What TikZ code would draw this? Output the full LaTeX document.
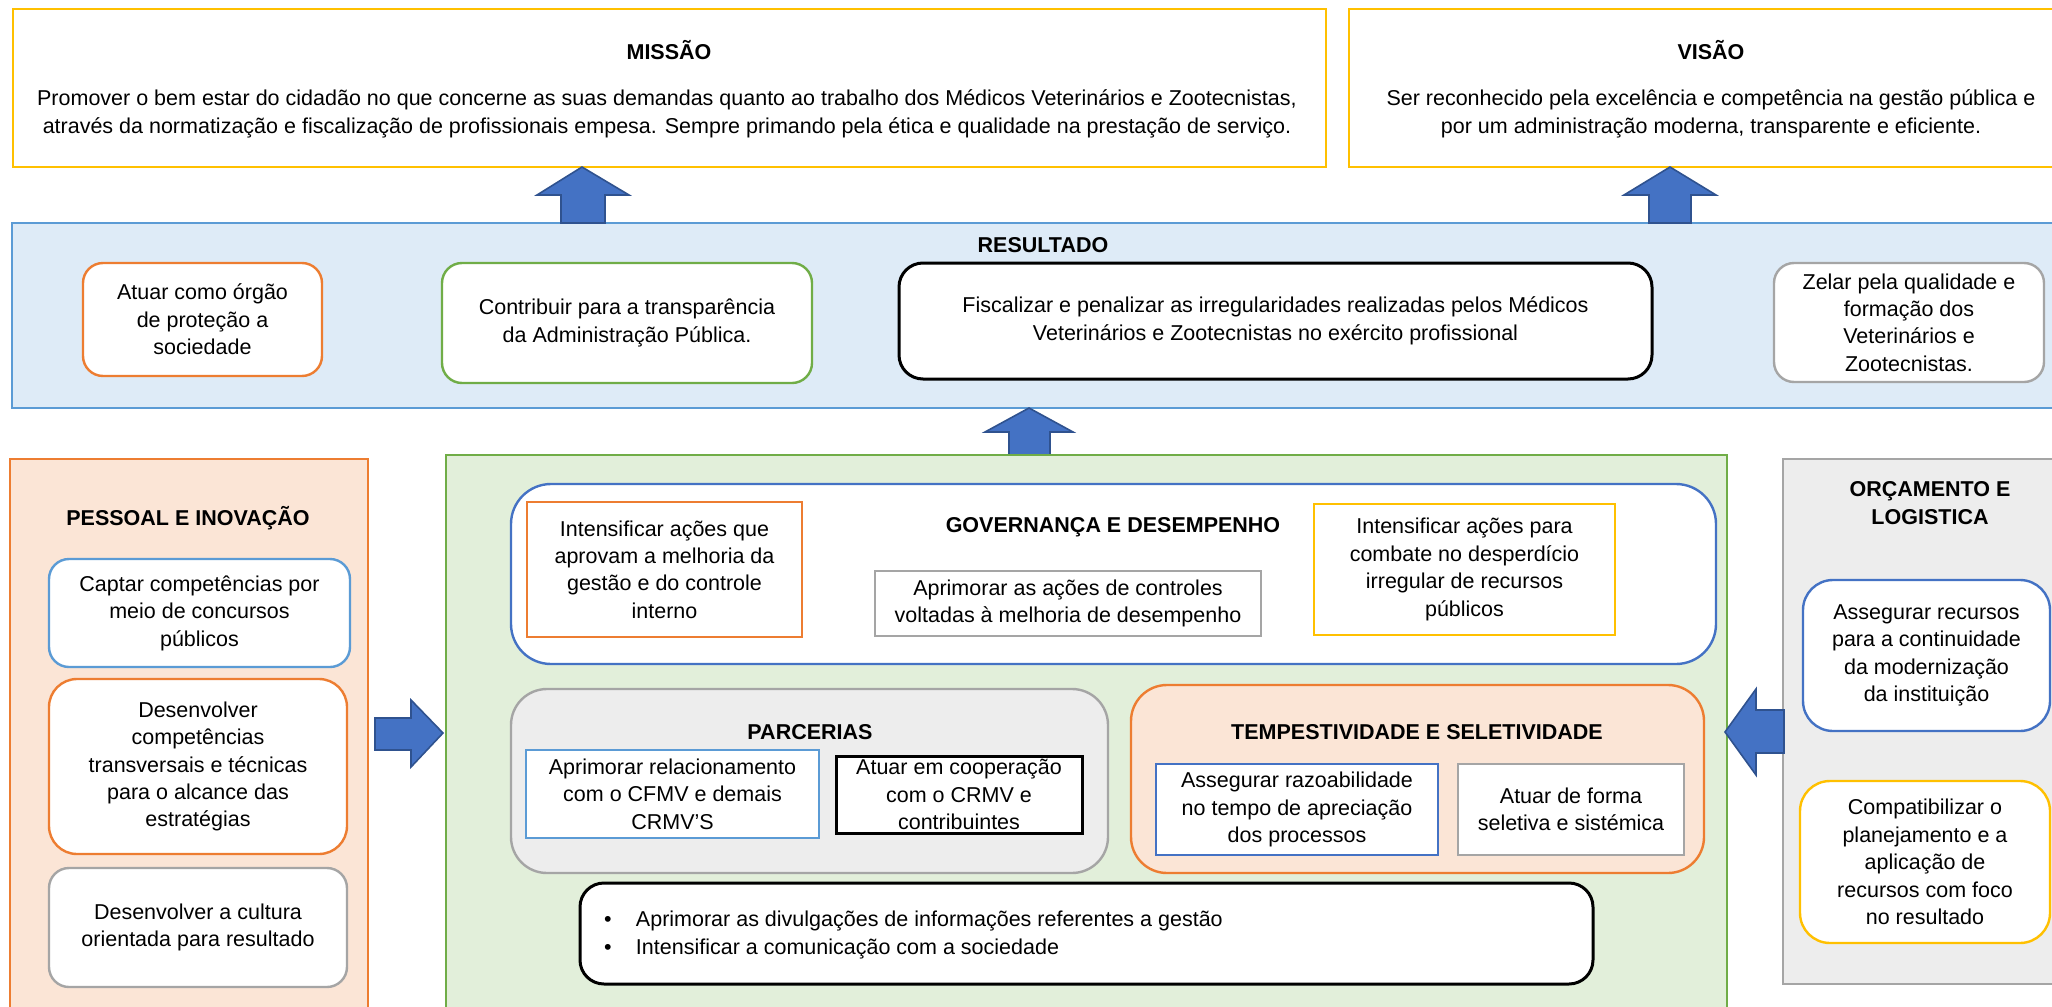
\documentclass[tikz,border=0pt]{standalone}
\usepackage{fontspec}
\setmainfont{Liberation Sans}
\usetikzlibrary{fit}
\definecolor{cyel}{HTML}{FFC000}
\definecolor{cblu}{HTML}{4472C4}
\definecolor{clbl}{HTML}{5B9BD5}
\definecolor{cora}{HTML}{ED7D31}
\definecolor{cgrn}{HTML}{70AD47}
\definecolor{cgry}{HTML}{A5A5A5}
\definecolor{fres}{HTML}{DEEBF7}
\definecolor{fpea}{HTML}{FBE5D6}
\definecolor{fgrn}{HTML}{E2EFDA}
\definecolor{fgry}{HTML}{EDEDED}
\definecolor{carr}{HTML}{2F528F}
\begin{document}
\begin{tikzpicture}[x=0.5pt,y=-0.5pt,
 every node/.style={font=\fontsize{10.75}{13.7}\selectfont, align=center, inner sep=0pt, outer sep=0pt},
 box/.style={draw, line width=1.2pt, fill=white},
 rbox/.style={box, rounded corners=#1},
 rbox/.default=10pt,
 ttl/.style={font=\fontsize{10.75}{13.7}\selectfont\bfseries},
 txt/.style={},
 barrow/.style={fill=cblu, draw=carr, line width=0.8pt, line join=miter},
]
\useasboundingbox (0,0) rectangle (2052,1007);
\clip (0,0) rectangle (2052,1007);

% ---- top row
\node[box, draw=cyel, fit={(13,9) (1326,167)}] (mis) {};
\node[ttl] (misT) at (669,50) {MISSÃO};
\node[font=\fontsize{10.75}{14}\selectfont] (misX) at (667,114) {Promover o bem estar do cidadão no que concerne as suas demandas quanto ao trabalho dos Médicos Veterinários e Zootecnistas,\\através da normatização e fiscalização de profissionais empesa. Sempre primando pela ética e qualidade na prestação de serviço.};

\node[box, draw=cyel, fit={(1349,9) (2090,167)}] (vis) {};
\node[ttl] (visT) at (1711,50) {VISÃO};
\node[font=\fontsize{10.75}{14}\selectfont] (visX) at (1711,114) {Ser reconhecido pela excelência e competência na gestão pública e\\por um administração moderna, transparente e eficiente.};

% ---- resultado
\node[box, draw=clbl, fill=fres, fit={(12,223) (2090,408)}] (res) {};
\node[ttl] (resT) at (1043,245) {RESULTADO};
\node[rbox, draw=cora, fit={(83,263) (322,376)}] (r1) {};
\node[txt] at (r1.center) {Atuar como órgão\\de proteção a\\sociedade};
\node[rbox, draw=cgrn, fit={(442,263) (812,383)}] (r2) {};
\node[txt] at (r2.center) {Contribuir para a transparência\\da Administração Pública.};
\node[rbox=12pt, draw=black, line width=1.5pt, fit={(899,263) (1652,379)}] (r3) {};
\node[txt] at (r3.center) {Fiscalizar e penalizar as irregularidades realizadas pelos Médicos\\Veterinários e Zootecnistas no exército profissional};
\node[rbox, draw=cgry, fit={(1774,263) (2044,382)}] (r4) {};
\node[txt] at (r4.center) {Zelar pela qualidade e\\formação dos\\Veterinários e\\Zootecnistas.};

% ---- up arrows
\draw[barrow] (582,167) -- (629,195) -- (605,195) -- (605,223) -- (561,223) -- (561,195) -- (537,195) -- cycle;
\draw[barrow] (1670,167) -- (1716,195) -- (1691,195) -- (1691,223) -- (1649,223) -- (1649,195) -- (1624,195) -- cycle;
\draw[barrow] (1029,408) -- (1073,432) -- (1050,432) -- (1050,455) -- (1009,455) -- (1009,432) -- (985,432) -- cycle;

% ---- pessoal
\node[box, draw=cora, fill=fpea, fit={(10,459) (368,1060)}] (pes) {};
\node[ttl] (pesT) at (188,518) {PESSOAL E INOVAÇÃO};
\node[rbox, draw=clbl, fit={(49,559) (350,667)}] (p1) {};
\node[txt] at (p1.center) {Captar competências por\\meio de concursos\\públicos};
\node[rbox=14pt, draw=cora, fit={(49,679) (347,854)}] (p2) {};
\node[txt] at (p2.center) {Desenvolver\\competências\\transversais e técnicas\\para o alcance das\\estratégias};
\node[rbox, draw=cgry, fit={(49,868) (347,987)}] (p3) {};
\node[txt] at (p3.center) {Desenvolver a cultura\\orientada para resultado};

\draw[barrow] (443,733) -- (411,767) -- (411,750) -- (375,750) -- (375,718) -- (411,718) -- (411,700) -- cycle;

% ---- central green
\node[box, draw=cgrn, fill=fgrn, fit={(446,455) (1727,1060)}] (grn) {};
\node[rbox=20pt, draw=cblu, fit={(511,484) (1716,664)}] (gov) {};
\node[box, draw=cora, fit={(527,502) (802,637)}] (g1) {};
\node[txt] at (g1.center) {Intensificar ações que\\aprovam a melhoria da\\gestão e do controle\\interno};
\node[ttl] (govT) at (1113,527) {GOVERNANÇA E DESEMPENHO};
\node[box, draw=cgry, fit={(875,571) (1261,636)}] (g2) {};
\node[txt] at (g2.center) {Aprimorar as ações de controles\\voltadas à melhoria de desempenho};
\node[box, draw=cyel, fit={(1314,504) (1615,635)}] (g3) {};
\node[txt] at (g3.center) {Intensificar ações para\\combate no desperdício\\irregular de recursos\\públicos};

\node[rbox=18pt, draw=cgry, fill=fgry, fit={(511,689) (1108,873)}] (par) {};
\node[ttl] (parT) at (810,732) {PARCERIAS};
\node[box, draw=clbl, fit={(526,750) (819,838)}] (pa1) {};
\node[txt] at (pa1.center) {Aprimorar relacionamento\\com o CFMV e demais\\CRMV’S};
\node[box, draw=black, line width=1.5pt, fit={(836,756) (1082,833)}] (pa2) {};
\node[txt] at (pa2.center) {Atuar em cooperação\\com o CRMV e\\contribuintes};

\node[rbox=18pt, draw=cora, fill=fpea, fit={(1131,685) (1704,873)}] (tem) {};
\node[ttl] (temT) at (1417,732) {TEMPESTIVIDADE E SELETIVIDADE};
\node[box, draw=cblu, fit={(1156,764) (1438,855)}] (t1) {};
\node[txt] at (t1.center) {Assegurar razoabilidade\\no tempo de apreciação\\dos processos};
\node[box, draw=cgry, fit={(1458,764) (1684,855)}] (t2) {};
\node[txt] at (t2.center) {Atuar de forma\\seletiva e sistémica};

\node[rbox=12pt, draw=black, line width=1.5pt, fit={(580,883) (1593,984)}] (bul) {};
\node[anchor=west, align=left] (bulX) at (604,935) {\makebox[16pt][l]{\textbullet}Aprimorar as divulgações de informações referentes a gestão\\\makebox[16pt][l]{\textbullet}Intensificar a comunicação com a sociedade};

% ---- orcamento
\node[box, draw=cgry, fill=fgry, fit={(1783,459) (2090,984)}] (orc) {};
\node[ttl] (orcT) at (1930,503) {ORÇAMENTO E\\LOGISTICA};
\node[rbox=15pt, draw=cblu, fit={(1803,580) (2050,731)}] (o1) {};
\node[txt] at (o1.center) {Assegurar recursos\\para a continuidade\\da modernização\\da instituição};
\node[rbox=15pt, draw=cyel, fit={(1800,781) (2050,943)}] (o2) {};
\node[txt] at (o2.center) {Compatibilizar o\\planejamento e a\\aplicação de\\recursos com foco\\no resultado};

\draw[barrow] (1725,732) -- (1756,689) -- (1756,710) -- (1784,710) -- (1784,753) -- (1756,753) -- (1756,775) -- cycle;
\end{tikzpicture}
\end{document}
